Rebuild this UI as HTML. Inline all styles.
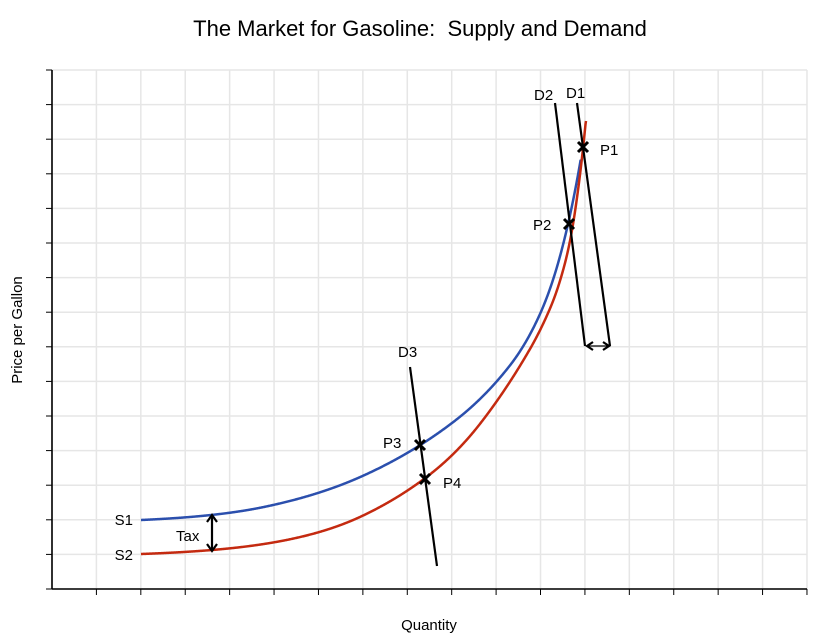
<!DOCTYPE html>
<html><head><meta charset="utf-8"><style>
html,body{margin:0;padding:0;background:#fff;}
svg{display:block;font-family:"Liberation Sans",Arial,sans-serif;}
</style></head><body>
<svg id="s" width="832" height="639" viewBox="0 0 832 639" xmlns="http://www.w3.org/2000/svg">
<g id="grid" stroke="#e6e6e6" stroke-width="1.5"></g>
<g stroke="#000" stroke-width="1.6">
<line x1="52" y1="70" x2="52" y2="589"/>
<line x1="52" y1="589" x2="807" y2="589"/>
</g>
<g id="ticks" stroke="#000" stroke-width="1"></g>
<path id="s1" fill="none" stroke="#2b4fad" stroke-width="2.5"/>
<path id="s2" fill="none" stroke="#c42a10" stroke-width="2.5"/>
<g stroke="#000" stroke-width="2.2" fill="none">
<line x1="555" y1="103" x2="585" y2="346"/>
<line x1="577" y1="103" x2="610" y2="346"/>
<line x1="410" y1="367" x2="437" y2="566"/>
<line x1="212" y1="517" x2="212" y2="549"/>
<polyline points="207,522 212,515 217,522"/>
<polyline points="207,544 212,551 217,544"/>
<polyline points="593,342 587,346 593,350"/>
<polyline points="603,342 609,346 603,350"/>
<line x1="587" y1="346" x2="609" y2="346" stroke-width="1.2"/>
</g>
<g stroke="#000" stroke-width="3">
<path d="M578,142 L588,152 M588,142 L578,152"/>
<path d="M564,219 L574,229 M574,219 L564,229"/>
<path d="M415,440 L425,450 M425,440 L415,450"/>
<path d="M420,474 L430,484 M430,474 L420,484"/>
</g>
<g font-size="15" fill="#000">
<text x="420" y="36" font-size="22" text-anchor="middle" xml:space="preserve" style="white-space:pre">The Market for Gasoline:  Supply and Demand</text>
<text x="429" y="630" text-anchor="middle">Quantity</text>
<text transform="translate(22,330) rotate(-90)" text-anchor="middle">Price per Gallon</text>
<text x="133" y="525" text-anchor="end">S1</text>
<text x="133" y="560" text-anchor="end">S2</text>
<text x="176" y="541">Tax</text>
<text x="398" y="357">D3</text>
<text x="383" y="448">P3</text>
<text x="443" y="488">P4</text>
<text x="534" y="100">D2</text>
<text x="566" y="98">D1</text>
<text x="600" y="155">P1</text>
<text x="533" y="230">P2</text>
</g>
</svg>
<script>
var g=document.getElementById('grid'),t=document.getElementById('ticks'),ns='http://www.w3.org/2000/svg';
function L(p,a,b,c,d){var l=document.createElementNS(ns,'line');l.setAttribute('x1',a);l.setAttribute('y1',b);l.setAttribute('x2',c);l.setAttribute('y2',d);p.appendChild(l);}
for(var i=0;i<=17;i++){var x=52+i*44.41;L(g,x,70,x,589);if(i>0)L(t,x,589,x,595);}
for(var j=0;j<=15;j++){var y=70+j*34.6;L(g,52,y,807,y);L(t,46,y,52,y);}
function lnS(n,x){if(x<=n[0][0])return n[0][1]+(x-n[0][0])*(n[1][1]-n[0][1])/(n[1][0]-n[0][0]);
for(var i=0;i<n.length-1;i++){if(x<=n[i+1][0])return n[i][1]+(x-n[i][0])*(n[i+1][1]-n[i][1])/(n[i+1][0]-n[i][0]);}
var k=n.length-1;return n[k][1]+(x-n[k][0])*(n[k][1]-n[k-1][1])/(n[k][0]-n[k-1][0]);}
function curve(n,x0,y0,yEnd){var y=y0,d='M'+x0+','+y0,h=0.5;for(var x=x0;y>yEnd;x+=h){y-=h*Math.exp(lnS(n,x+h/2));d+='L'+(x+h).toFixed(1)+','+Math.max(y,yEnd).toFixed(2);}return d;}
document.getElementById('s1').setAttribute('d',curve([[177,-2.66],[265,-1.56],[362,-0.8],[456,-0.25],[510,0.25],[540,0.8],[560,1.3],[580,1.75]],141,520,160));
document.getElementById('s2').setAttribute('d',curve([[177,-2.9],[265,-1.85],[362,-0.75],[430,-0.25],[480,0.25],[530,0.55],[550,0.85],[565,1.35],[575,1.9],[585,2.3]],141,554,121));
</script>
</body></html>
